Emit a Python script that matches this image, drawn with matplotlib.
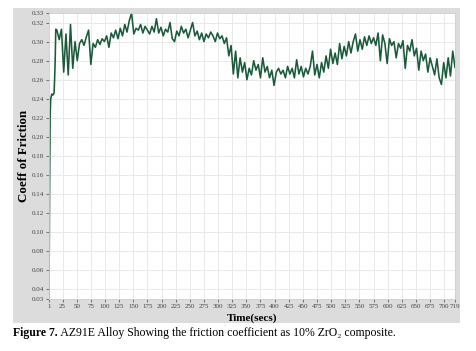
import numpy as np
import matplotlib
matplotlib.use("Agg")
import matplotlib.pyplot as plt
from matplotlib.patches import Rectangle

SERIF = ["Liberation Serif", "DejaVu Serif"]

# arranque del ensayo (1 s de paso)
t_start = [1, 2, 3, 4, 6, 8, 10, 11, 12, 13]
cof_start = [0.030, 0.140, 0.222, 0.240, 0.245, 0.244, 0.246, 0.262, 0.282, 0.313]

# resto del ensayo, cada 4 s desde t=15
t_main = list(range(15, 716, 4)) + [719]
cof_main = [
    0.312, 0.302, 0.313, 0.268, 0.308, 0.265, 0.318, 0.272, 0.300, 0.280,
    0.298, 0.302, 0.296, 0.305, 0.312, 0.276, 0.298, 0.294, 0.302, 0.297,
    0.303, 0.300, 0.306, 0.294, 0.309, 0.304, 0.312, 0.303, 0.314, 0.306,
    0.318, 0.310, 0.322, 0.330, 0.308, 0.314, 0.312, 0.318, 0.309, 0.316,
    0.312, 0.308, 0.316, 0.310, 0.324, 0.309, 0.315, 0.306, 0.313, 0.310,
    0.320, 0.303, 0.300, 0.311, 0.306, 0.316, 0.309, 0.313, 0.304, 0.312,
    0.320, 0.306, 0.311, 0.302, 0.309, 0.300, 0.308, 0.304, 0.310, 0.306,
    0.300, 0.309, 0.303, 0.306, 0.298, 0.304, 0.285, 0.296, 0.266, 0.290,
    0.262, 0.283, 0.268, 0.278, 0.260, 0.272, 0.265, 0.280, 0.270, 0.276,
    0.262, 0.283, 0.268, 0.274, 0.262, 0.270, 0.254, 0.268, 0.272, 0.266,
    0.270, 0.262, 0.274, 0.266, 0.272, 0.262, 0.281, 0.266, 0.274, 0.263,
    0.272, 0.266, 0.274, 0.290, 0.265, 0.276, 0.262, 0.278, 0.268, 0.285,
    0.272, 0.292, 0.277, 0.288, 0.276, 0.298, 0.282, 0.295, 0.285, 0.300,
    0.288, 0.300, 0.308, 0.290, 0.302, 0.292, 0.305, 0.296, 0.306, 0.298,
    0.304, 0.296, 0.309, 0.280, 0.307, 0.298, 0.277, 0.303, 0.296, 0.300,
    0.283, 0.298, 0.293, 0.301, 0.272, 0.296, 0.290, 0.302, 0.285, 0.293,
    0.270, 0.290, 0.280, 0.287, 0.268, 0.283, 0.274, 0.265, 0.282, 0.262,
    0.255, 0.278, 0.262, 0.283, 0.264, 0.290,
    0.273,
]

x_ticks = [1] + list(range(25, 701, 25)) + [719]
y_ticks = [0.03] + [round(0.04 + 0.02 * i, 2) for i in range(15)] + [0.33]

t = np.array(t_start + t_main)
cof = np.array(cof_start + cof_main)

W, H = 476, 351
fig = plt.figure(figsize=(W / 100, H / 100), dpi=100)

# panel gris de fondo
fig.patches.append(Rectangle((13 / W, 1 - 323 / H), (460 - 13) / W, (323 - 8) / H,
                             transform=fig.transFigure, facecolor="#dcdcdc",
                             edgecolor="none", zorder=-5))

ax = fig.add_axes([49 / W, 1 - 299 / H, (455 - 49) / W, (299 - 13) / H])
ax.set_zorder(1)
ax.set_facecolor("white")
ax.plot(t, cof, color="#1a5a3a", lw=1.15)

ax.set_xlim(1, 719)
ax.set_ylim(0.03, 0.33)
ax.set_xticks(x_ticks)
ax.set_xticklabels([str(v) for v in x_ticks])
ax.set_yticks(y_ticks)
ax.set_yticklabels(["%.2f" % v for v in y_ticks])
ax.tick_params(labelsize=5, colors="#444444", length=2, width=0.5, pad=1.5)
for lab in ax.get_xticklabels() + ax.get_yticklabels():
    lab.set_family(SERIF)
ax.grid(color="#e6e6e6", lw=0.6)
ax.set_axisbelow(True)
for s in ax.spines.values():
    s.set_color("#cfcfcf")
    s.set_linewidth(0.6)

ax.set_xlabel("Time(secs)", family=SERIF, fontsize=8, fontweight="bold", labelpad=3)
ax.set_ylabel("Coeff of Friction", family=SERIF, fontsize=9.3, fontweight="bold")
ax.yaxis.set_label_coords((30 - 49) / 406, 0.5)

# pie de figura
cap_y = 1 - 333 / H
t1 = fig.text(13 / W, cap_y, "Figure 7.", family=SERIF, fontsize=8.5,
              fontweight="bold", va="center")
fig.canvas.draw()
bb = t1.get_window_extent()
fig.text(bb.x1 / W, cap_y, " AZ91E Alloy Showing the friction coefficient as 10% ZrO\u2082 composite.",
         family=SERIF, fontsize=8.5, va="center")

fig.savefig("out.png", dpi=100)
